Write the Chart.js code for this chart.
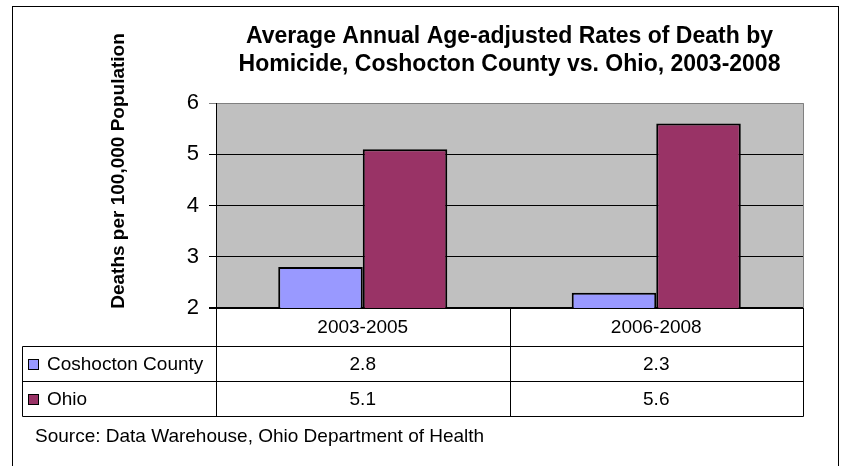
<!DOCTYPE html>
<html>
<head>
<meta charset="utf-8">
<title>Homicide death rates, Coshocton County vs. Ohio</title>
<script src="https://cdn.jsdelivr.net/npm/chart.js@4/dist/chart.umd.min.js"></script>
<style>
    html, body { margin: 0; padding: 0; background: #fff; }
    #wrap { width: 841px; height: 466px; position: relative; }
</style>
</head>
<body>
<div id="wrap"><canvas id="homicideChart"></canvas></div>
<script>
// chart data
const periods = ['2003-2005', '2006-2008'];
const seriesNames = ['Coshocton County', 'Ohio'];
const coshoctonRates = [2.8, 2.3];
const ohioRates = [5.1, 5.6];
const seriesColors = ['#9999FF', '#993366'];
const yTicks = [2, 3, 4, 5, 6];

const titleLines = [
    'Average Annual Age-adjusted Rates of Death by',
    'Homicide, Coshocton County vs. Ohio, 2003-2008'
];
const yTitle = 'Deaths per 100,000 Population';
const sourceNote = 'Source: Data Warehouse, Ohio Department of Health';

const FONT = '"Liberation Sans", Arial, sans-serif';

// gray plot background, right border
const plotBackground = {
    id: 'plotBackground',
    beforeDraw(chart) {
        const { ctx, chartArea: a } = chart;
        ctx.save();
        ctx.fillStyle = '#C0C0C0';
        ctx.fillRect(a.left, a.top, a.right - a.left, a.bottom - a.top);
        ctx.strokeStyle = '#808080';
        ctx.lineWidth = 1;
        ctx.beginPath();
        ctx.moveTo(a.right + 0.5, a.top);
        ctx.lineTo(a.right + 0.5, a.bottom);
        ctx.stroke();
        ctx.restore();
    }
};

// outer frame, rotated axis title, data table, source line
const tableAndFrame = {
    id: 'tableAndFrame',
    afterDraw(chart) {
        const { ctx, chartArea: a } = chart;
        const x = chart.scales.x;
        ctx.save();

        // outer border
        ctx.strokeStyle = '#000';
        ctx.lineWidth = 1;
        ctx.strokeRect(12.5, 6.5, 826, 470);

        // y axis title
        ctx.save();
        ctx.translate(119, 171);
        ctx.rotate(-Math.PI / 2);
        ctx.font = 'bold 19px ' + FONT;
        ctx.fillStyle = '#000';
        ctx.textAlign = 'center';
        ctx.textBaseline = 'middle';
        ctx.fillText(yTitle, 0, 0);
        ctx.restore();

        // data table
        const tLeft = 22.5;
        const headBottom = 346.5;
        const rowH = 35;
        const tBottom = headBottom + rowH * seriesNames.length;
        const mid = Math.round((x.getPixelForValue(0) + x.getPixelForValue(1)) / 2) + 0.5;
        const cols = [a.left + 0.5, mid, a.right + 0.5];

        ctx.strokeStyle = '#000';
        ctx.lineWidth = 1;
        ctx.beginPath();
        cols.forEach(cx => { ctx.moveTo(cx, a.bottom); ctx.lineTo(cx, tBottom); });
        ctx.moveTo(tLeft, headBottom); ctx.lineTo(tLeft, tBottom);
        for (let r = 0; r <= seriesNames.length; r++) {
            const ry = headBottom + rowH * r;
            ctx.moveTo(tLeft, ry); ctx.lineTo(a.right + 0.5, ry);
        }
        ctx.stroke();

        ctx.fillStyle = '#000';
        ctx.font = '19px ' + FONT;
        ctx.textBaseline = 'middle';
        ctx.textAlign = 'center';
        periods.forEach((p, i) => {
            ctx.fillText(p, x.getPixelForValue(i), (a.bottom + headBottom) / 2 + 1);
        });

        const rows = [coshoctonRates, ohioRates];
        rows.forEach((vals, r) => {
            const cy = headBottom + rowH * r + rowH / 2 + 1;
            // legend key
            ctx.fillStyle = seriesColors[r];
            ctx.fillRect(28.5, cy - 5.5, 10, 10);
            ctx.strokeStyle = '#000';
            ctx.strokeRect(28.5, cy - 5.5, 10, 10);
            ctx.fillStyle = '#000';
            ctx.textAlign = 'left';
            ctx.fillText(seriesNames[r], 47, cy);
            ctx.textAlign = 'center';
            vals.forEach((v, i) => ctx.fillText(v.toFixed(1), x.getPixelForValue(i), cy));
        });

        // source
        ctx.textAlign = 'left';
        ctx.fillText(sourceNote, 35, 437);
        ctx.restore();
    }
};

const ctx = document.getElementById('homicideChart').getContext('2d');
new Chart(ctx, {
    type: 'bar',
    data: {
        labels: periods,
        datasets: [
            { label: seriesNames[0], data: coshoctonRates, backgroundColor: seriesColors[0] },
            { label: seriesNames[1], data: ohioRates, backgroundColor: seriesColors[1] }
        ].map(ds => Object.assign(ds, {
            borderColor: '#000',
            borderWidth: 2,
            borderSkipped: false,
            categoryPercentage: 0.576,
            barPercentage: 1
        }))
    },
    options: {
        responsive: true,
        maintainAspectRatio: false,
        animation: false,
        layout: { padding: { left: 0, top: 10, right: 38, bottom: 158 } },
        plugins: {
            legend: { display: false },
            tooltip: { enabled: false },
            title: {
                display: true,
                fullSize: false,
                text: titleLines,
                color: '#000',
                font: { family: FONT, size: 23, weight: 'bold', lineHeight: 1.22 },
                padding: { top: 13, bottom: 24 }
            }
        },
        scales: {
            x: { display: false, offset: true },
            y: {
                min: yTicks[0],
                max: yTicks[yTicks.length - 1],
                afterFit(scale) { scale.width = 216; },
                afterBuildTicks(scale) { scale.ticks = yTicks.map(v => ({ value: v })); },
                ticks: {
                    color: '#000',
                    padding: 10,
                    font: { family: FONT, size: 22 }
                },
                border: { color: '#000', width: 1 },
                grid: {
                    tickLength: 7,
                    color: c => (c.tick && c.tick.value === 6) ? '#808080' : '#000',
                    lineWidth: c => (c.tick && c.tick.value === 2) ? 2 : 1
                }
            }
        }
    },
    plugins: [plotBackground, tableAndFrame]
});
</script>
</body>
</html>
